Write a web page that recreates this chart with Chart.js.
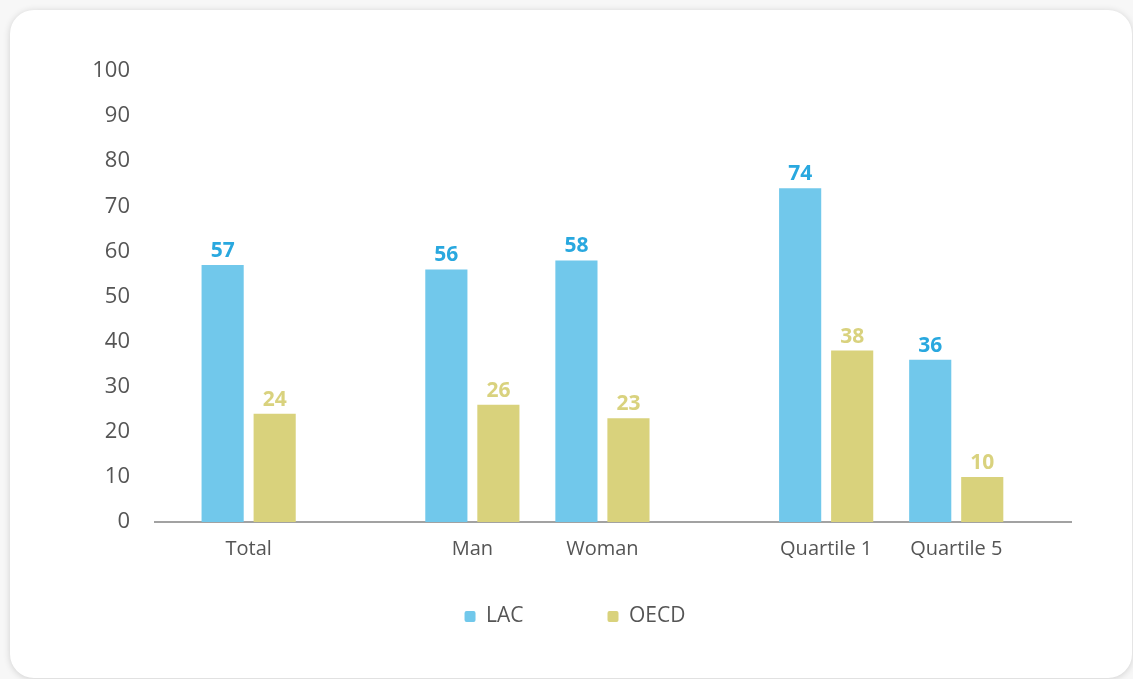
<!DOCTYPE html>
<html>
<head>
<meta charset="utf-8">
<script src="https://cdn.jsdelivr.net/npm/chart.js@4.4.1/dist/chart.umd.min.js"></script>
<style>
  html, body { margin: 0; padding: 0; background: #f7f7f7; }
  body { width: 1133px; height: 679px; position: relative; overflow: hidden; }
  .card {
    position: absolute; left: 10px; top: 10px; width: 1122px; height: 668px;
    background: #fff; border-radius: 24px;
    box-shadow: 0 1px 7px rgba(0, 0, 0, 0.16);
  }
  #chart { position: absolute; left: 20px; top: 20px; }
</style>
</head>
<body>
<div class="card"></div>
<canvas id="chart" width="1052" height="657"></canvas>
<script>
// Category labels and the cluster each belongs to (Total | gender | income quartile)
const categories = ['Total', 'Man', 'Woman', 'Quartile 1', 'Quartile 5'];
const clusterOf = [0, 1, 1, 2, 2];
const gapBetweenClusters = 0.72;

// Series values (%)
const lacValues = [57, 56, 58, 74, 36];
const oecdValues = [24, 26, 23, 38, 10];

// Y axis ticks
const yTicks = [0, 10, 20, 30, 40, 50, 60, 70, 80, 90, 100];

const LAC_BAR = '#71c8eb';
const LAC_TEXT = '#29a8df';
const OECD_BAR = '#d9d27c';
const OECD_TEXT = '#d9d27e';
const TEXT = '#555555';
const FONT = "'Open Sans', 'Noto Sans', sans-serif";
const X_AXIS_HEIGHT = 40;

// Horizontal slot for each category: one unit per category, plus a gap between clusters
const xSlots = categories.map((_, i) => i + clusterOf[i] * gapBetweenClusters);
const toPoints = values => values.map((v, i) => ({ x: xSlots[i], y: v }));

// Value labels above each bar
const valueLabels = {
  id: 'valueLabels',
  afterDatasetsDraw(chart) {
    const ctx = chart.ctx;
    ctx.save();
    ctx.font = "bold 21px " + FONT;
    ctx.textAlign = 'center';
    ctx.textBaseline = 'alphabetic';
    chart.data.datasets.forEach((ds, di) => {
      const meta = chart.getDatasetMeta(di);
      ctx.fillStyle = ds.labelColor;
      meta.data.forEach((bar, i) => {
        ctx.fillText(String(ds.data[i].y), bar.x, bar.y - 8);
      });
    });
    ctx.restore();
  }
};

// The legend uses a wide item spacing; pull its box up over the x-axis band
// so the wide label padding does not push the row too far down.
const legendPlacement = {
  id: 'legendPlacement',
  afterLayout(chart) {
    const lg = chart.legend;
    if (!lg) return;
    const h = lg.height;
    lg.top = chart.chartArea.bottom;
    lg.bottom = lg.top + h;
  }
};

new Chart(document.getElementById('chart'), {
  type: 'bar',
  data: {
    datasets: [
      { label: 'LAC', data: toPoints(lacValues), backgroundColor: LAC_BAR, labelColor: LAC_TEXT, borderWidth: 0 },
      { label: 'OECD', data: toPoints(oecdValues), backgroundColor: OECD_BAR, labelColor: OECD_TEXT, borderWidth: 0 }
    ]
  },
  options: {
    responsive: false,
    animation: false,
    events: [],
    categoryPercentage: 0.8,
    barPercentage: 0.81,
    layout: { padding: { left: 58, right: 0, top: 51, bottom: 0 } },
    plugins: {
      tooltip: { enabled: false },
      legend: {
        position: 'bottom',
        labels: {
          boxWidth: 11,
          boxHeight: 11,
          useBorderRadius: true,
          borderRadius: 2,
          padding: 84,
          color: TEXT,
          font: { family: FONT, size: 21, weight: 500 }
        }
      }
    },
    scales: {
      x: {
        type: 'linear',
        offset: false,
        min: -0.72,
        max: xSlots[xSlots.length - 1] + 0.89,
        z: 1,
        grid: { display: false, drawTicks: false, offset: false },
        border: { display: true, color: 'rgba(70, 70, 70, 0.5)', width: 2 },
        afterBuildTicks: s => { s.ticks = xSlots.map(v => ({ value: v })); },
        afterFit: s => { s.height = X_AXIS_HEIGHT; },
        ticks: {
          autoSkip: false,
          maxRotation: 0,
          padding: 15,
          color: TEXT,
          font: { family: FONT, size: 20, weight: 500 },
          callback: (value, index) => categories[index]
        }
      },
      y: {
        min: 0,
        max: 100,
        grid: { display: false, drawTicks: false },
        border: { display: false },
        afterBuildTicks: s => { s.ticks = yTicks.map(v => ({ value: v })); },
        afterFit: s => { s.width = 77; },
        ticks: {
          padding: 25,
          color: TEXT,
          font: { family: FONT, size: 22, weight: 500 }
        }
      }
    }
  },
  plugins: [valueLabels, legendPlacement]
});
</script>
</body>
</html>
